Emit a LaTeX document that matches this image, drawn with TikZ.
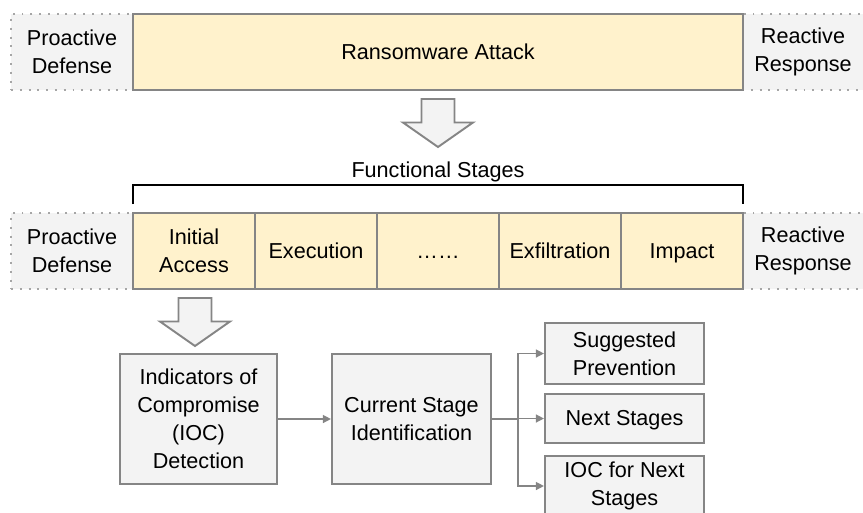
\documentclass[tikz,border=0pt]{standalone}
\usepackage{fontspec}
\setmainfont{Liberation Sans}
\usetikzlibrary{arrows.meta}
\definecolor{rsYellow}{HTML}{FFF2CC}
\definecolor{rsPale}{HTML}{F3F3F3}
\definecolor{rsLine}{HTML}{858585}
\definecolor{rsDots}{HTML}{A6A6A6}

\begin{document}
\begin{tikzpicture}[
  x=0.02cm,y=-0.02cm,
  font=\fontsize{12.3}{15.9}\selectfont,
  >={Triangle[length=4.6pt,width=4.4pt]},
  sidebox/.style={rectangle, draw=rsDots, fill=rsPale, line width=1.1pt,
                  dash pattern=on 1.1pt off 3.9pt, align=center,
                  minimum width=2.44cm, minimum height=1.52cm, inner sep=0pt},
  stagebox/.style={rectangle, draw=rsLine, fill=rsYellow, line width=1.1pt,
                   align=center, minimum width=2.44cm, minimum height=1.52cm,
                   inner sep=0pt},
  stepbox/.style={rectangle, draw=rsLine, fill=rsPale, line width=1.1pt,
                  align=center, minimum width=3.18cm, inner sep=0pt},
  oneline/.style={text height=.8em, text depth=0pt},
  blockarrow/.style={draw=rsLine, fill=rsPale, line width=1.1pt,
                     line join=miter},
  flow/.style={->, draw=rsLine, line width=1.1pt},
]
  \path[use as bounding box] (0,0) rectangle (863,512);

  % Top row: the attack as one block
  \node[sidebox] (proTop) at (72,52) {Proactive\\Defense};
  \node[sidebox] (reaTop) at (803,52) {Reactive\\Response};
  \node[stagebox, oneline, minimum width=12.2cm] (attack) at (438,52)
    {Ransomware Attack};

  % Block arrows
  \foreach \x/\y in {438/99,195/298} {
    \draw[blockarrow] (\x-16.5,\y) -- (\x+16.5,\y) -- (\x+16.5,\y+23.5) --
      (\x+35,\y+23.5) -- (\x,\y+48) -- (\x-35,\y+23.5) --
      (\x-16.5,\y+23.5) -- cycle;
  }

  \node[oneline] (stagesLabel) at (438,170) {Functional Stages};
  \draw[black, line width=1.1pt] (133,204) -- (133,185) -- (743,185) --
    (743,204);

  % Second row: the functional stages
  \node[sidebox] (proMid) at (72,251) {Proactive\\Defense};
  \node[sidebox] (reaMid) at (803,251) {Reactive\\Response};
  \node[stagebox] (init) at (194,251) {Initial\\Access};
  \foreach \name/\x/\txt in {exec/316/Execution,gap/438/{……},
      exfil/560/Exfiltration,impact/682/Impact} {
    \node[stagebox, oneline] (\name) at (\x,251) {\txt};
  }

  % Lower part: detection pipeline
  \node[stepbox, minimum width=3.14cm, minimum height=2.6cm] (ioc)
    at (198.5,419) {Indicators of\\Compromise\\(IOC)\\Detection};
  \node[stepbox, minimum height=2.6cm] (cur) at (411.5,419)
    {Current Stage\\Identification};
  \node[stepbox, minimum height=1.22cm] (sugg) at (624.5,353.5)
    {Suggested\\Prevention};
  \node[stepbox, oneline, minimum height=0.98cm] (next) at (624.5,418.5)
    {Next Stages};
  \node[stepbox, minimum height=1.2cm] (iocNext) at (624.5,486)
    {IOC for Next\\Stages};

  \draw[flow] (ioc) -- (cur);
  \coordinate (fork) at (518,419);
  \draw[draw=rsLine, line width=1.1pt] (cur.east) -- (fork);
  \draw[flow] (fork) |- (sugg.west);
  \draw[flow] (fork) |- (next.west);
  \draw[flow] (fork) |- (iocNext.west);
\end{tikzpicture}
\end{document}
